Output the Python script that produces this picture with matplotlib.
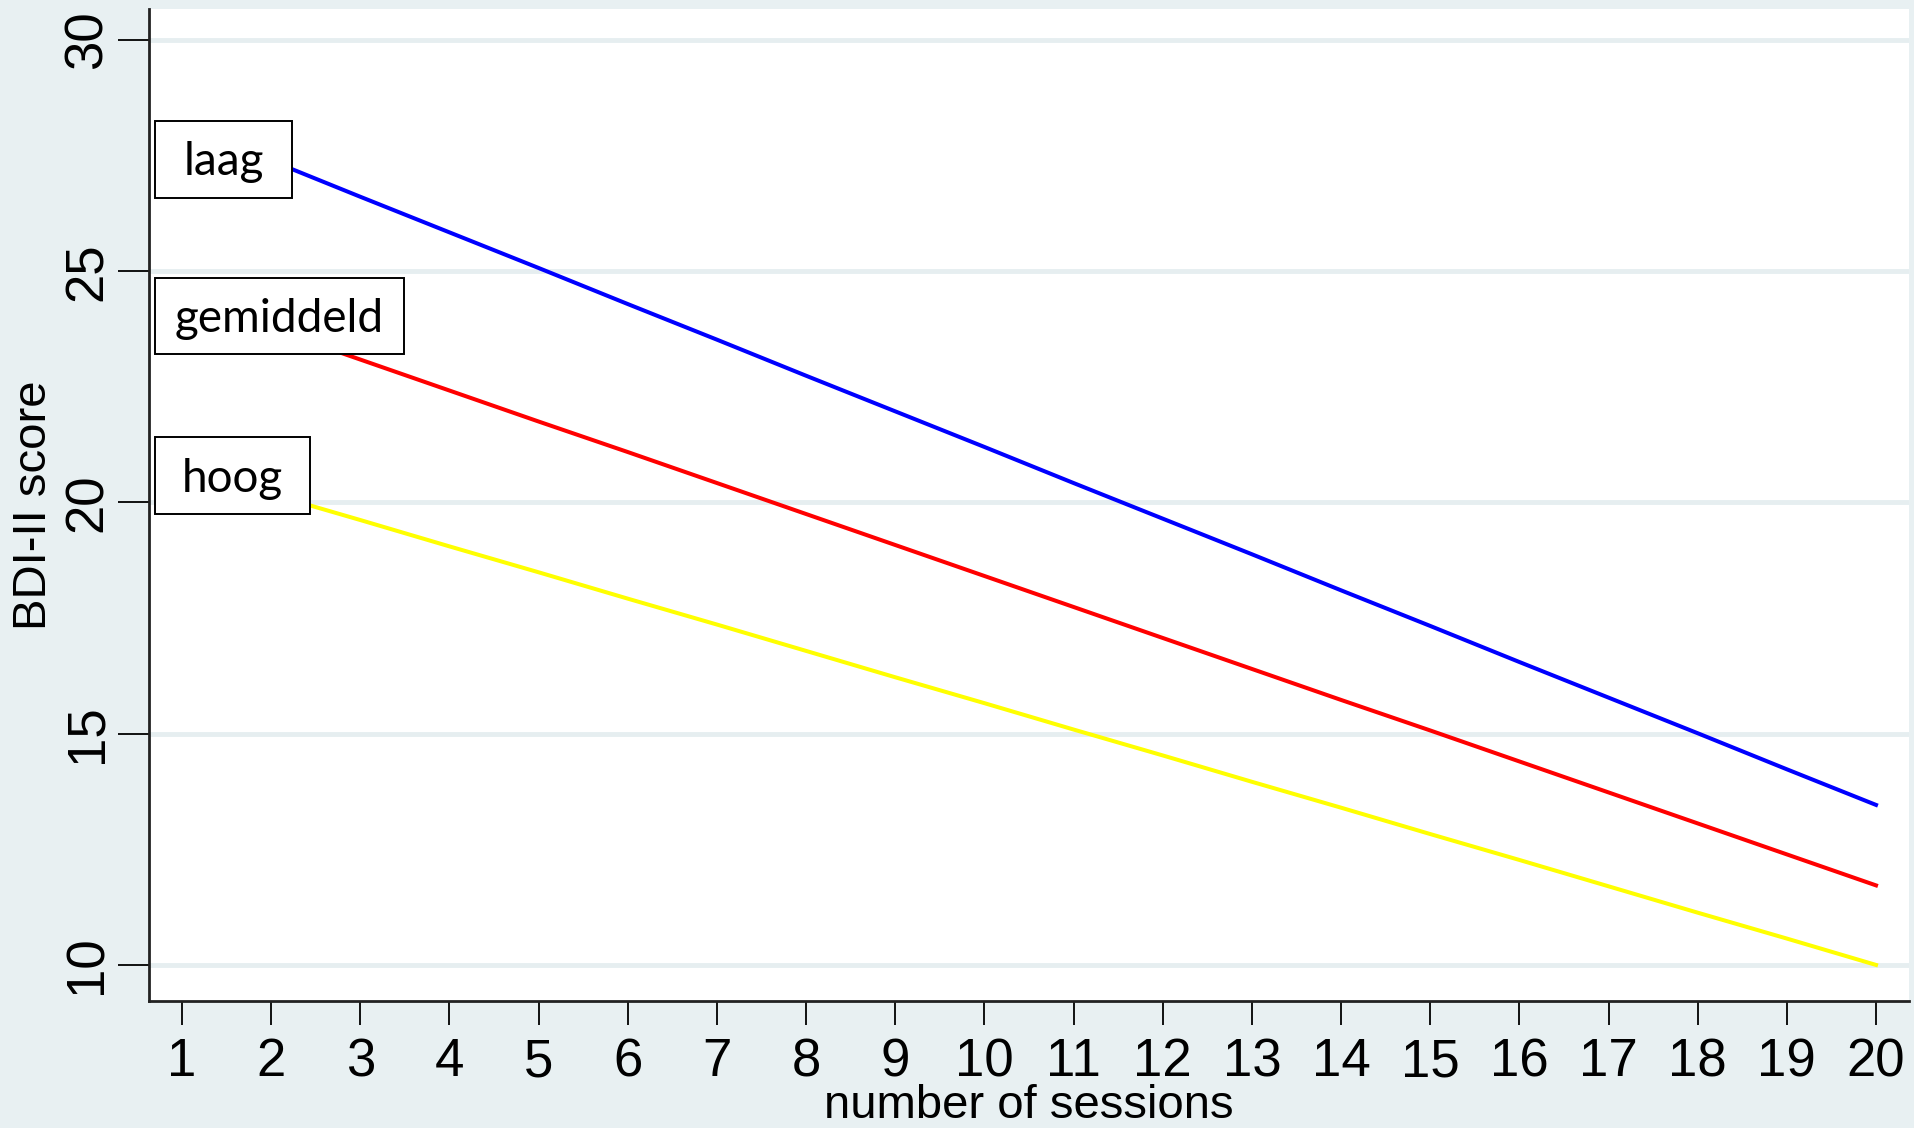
import matplotlib.pyplot as plt
from matplotlib.patches import Rectangle

# ---------------------------------------------------------------------------
# Data
# ---------------------------------------------------------------------------
sessions = list(range(1, 21))
laag = [28.16, 27.39, 26.61, 25.84, 25.07, 24.29, 23.52, 22.74, 21.97, 21.20,
        20.42, 19.65, 18.88, 18.10, 17.33, 16.55, 15.78, 15.01, 14.23, 13.46]
gemiddeld = [24.43, 23.76, 23.09, 22.42, 21.75, 21.09, 20.42, 19.75, 19.08, 18.41,
             17.74, 17.07, 16.40, 15.73, 15.07, 14.40, 13.73, 13.06, 12.39, 11.72]
hoog = [20.75, 20.18, 19.62, 19.05, 18.49, 17.92, 17.36, 16.79, 16.22, 15.66,
        15.09, 14.53, 13.96, 13.40, 12.83, 12.27, 11.70, 11.13, 10.57, 10.00]
series_names = ["laag", "gemiddeld", "hoog"]
y_ticks = [10, 15, 20, 25, 30]

BG = "#E8F0F2"
GRID = "#E6EEF0"

plt.rcParams["font.family"] = ["Liberation Sans", "DejaVu Sans"]

fig = plt.figure(figsize=(19.15, 11.28), dpi=100, facecolor=BG)
ax = fig.add_axes([149 / 1915, 1 - 1001 / 1128, 1760 / 1915, 992 / 1128])
ax.set_facecolor("white")

for v in y_ticks:
    ax.axhline(v, color=GRID, lw=3.5, zorder=1)

ax.plot(sessions, laag, color="#0000FF", lw=2.9, zorder=3)
ax.plot(sessions, gemiddeld, color="#FF0000", lw=2.9, zorder=3)
ax.plot(sessions, hoog, color="#FFFF00", lw=2.9, zorder=3)

ax.set_xlim(0.63, 20.37)
ax.set_ylim(9.22, 30.67)
ax.set_xticks(sessions)
ax.set_yticks(y_ticks)
ax.tick_params(axis="x", length=17, width=1.3, pad=9, labelsize=38)
ax.tick_params(axis="y", length=22, width=1.3, pad=4, labelsize=38,
               labelrotation=90)
for lbl in ax.get_yticklabels():
    lbl.set_va("center")

for side in ["top", "right"]:
    ax.spines[side].set_visible(False)
for side in ["left", "bottom"]:
    ax.spines[side].set_linewidth(2)
    ax.spines[side].set_color("#222222")

ax.set_xlabel("number of sessions", fontsize=34, labelpad=-2)
ax.set_ylabel("BDI-II score", fontsize=34, labelpad=5)

# Labelled boxes at the start of each line (axes fractions)
boxes = [(0.0034, 0.8095, 0.0778, 0.0776),
         (0.0034, 0.6522, 0.1415, 0.0766),
         (0.0034, 0.4909, 0.0881, 0.0776)]
for name, (x0, y0, w, h) in zip(series_names, boxes):
    ax.add_patch(Rectangle((x0, y0), w, h, transform=ax.transAxes,
                           facecolor="white", edgecolor="black", lw=1.4,
                           zorder=5, clip_on=False))
    ax.text(x0 + w / 2, y0 + h / 2 - 0.003, name, transform=ax.transAxes,
            ha="center", va="center", fontsize=33, zorder=6,
            family=["Lato", "DejaVu Sans"])

fig.savefig("out.png", dpi=100, facecolor=BG)
